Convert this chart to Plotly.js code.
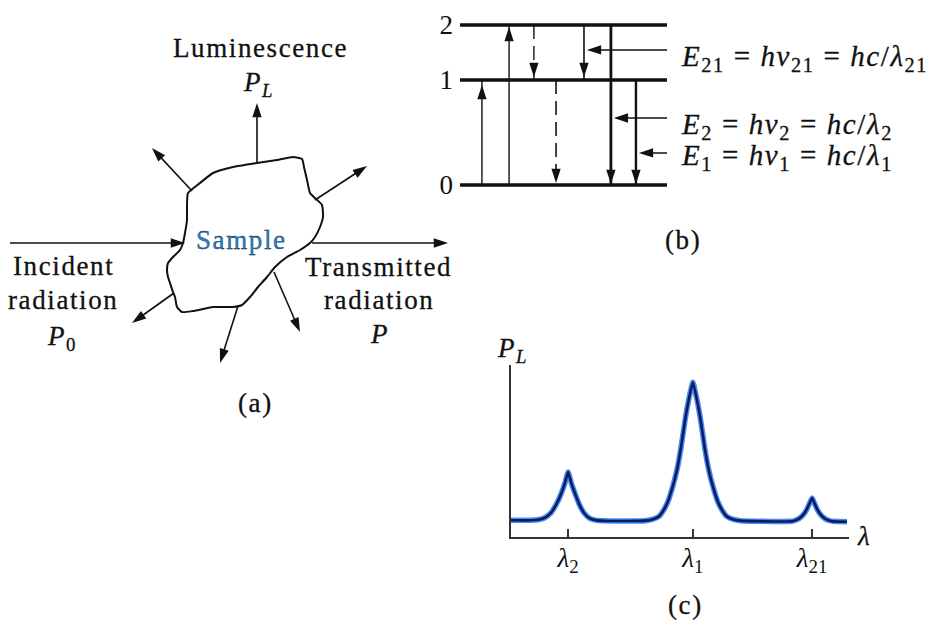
<!DOCTYPE html>
<html>
<head>
<meta charset="utf-8">
<script src="https://cdn.plot.ly/plotly-3.0.1.min.js"></script>
<style>
  html, body { margin: 0; padding: 0; background: #fff; }
  #fig { width: 935px; height: 623px; }
  .annotation-text { letter-spacing: 1.6px; }
  .annotation-text, .xtick text, .ytick text { stroke: #111; stroke-width: 0.3px; }
</style>
</head>
<body>
<div id="fig"></div>
<script>
// ---------- Energy-level scheme (panel b) ----------
const levelNames  = ['0', '1', '2'];
const levelEnergy = [0, 1, 1.524];          // relative energies of states 0, 1 and 2

// Transitions: start state, end state and kind of process
const transFrom = [0, 0, 2, 1, 2, 2, 1];
const transTo   = [1, 2, 1, 0, 1, 0, 0];
const transKind = ['absorption', 'absorption', 'nonradiative', 'nonradiative',
                   'emission', 'emission', 'emission'];

// Emitted photons and the emission transition each one belongs to
const photonLabels = [
  '<i>E</i><sub>21</sub> = <i>hν</i><sub>21</sub> = <i>hc</i>/<i>λ</i><sub>21</sub>',
  '<i>E</i><sub>2</sub> = <i>hν</i><sub>2</sub> = <i>hc</i>/<i>λ</i><sub>2</sub>',
  '<i>E</i><sub>1</sub> = <i>hν</i><sub>1</sub> = <i>hc</i>/<i>λ</i><sub>1</sub>'
];
const photonTransition = [4, 5, 6];

// ---------- Luminescence spectrum (panel c) ----------
const wavelength = [
  0.00, 0.60, 0.80, 1.00, 1.18, 1.34, 1.49, 1.59, 1.69, 1.79, 1.89, 2.02, 2.16, 2.32, 2.50, 2.75,
  3.40,
  3.98, 4.18, 4.38, 4.48, 4.63, 4.78, 4.91, 5.03, 5.15, 5.26, 5.38, 5.50, 5.61, 5.73, 5.85, 5.98,
  6.13, 6.28, 6.38, 6.58, 6.78,
  7.50, 8.00,
  8.30, 8.40, 8.52, 8.65, 8.75, 8.83, 8.91, 8.98, 9.06, 9.16, 9.29, 9.41, 9.52,
  9.94
];
const intensity = [
  0.97, 0.97, 1.00, 1.12, 1.40, 1.90, 2.55, 3.10, 3.78, 3.10, 2.55, 1.90, 1.40, 1.10, 0.98, 0.94,
  0.93,
  0.95, 1.02, 1.20, 1.45, 2.00, 2.90, 3.90, 5.20, 6.80, 8.00, 9.00, 8.00, 6.80, 5.20, 3.90, 2.90,
  2.00, 1.45, 1.20, 1.02, 0.95,
  0.91, 0.90,
  0.91, 0.96, 1.07, 1.30, 1.60, 1.95, 2.27, 1.95, 1.60, 1.30, 1.07, 0.96, 0.91,
  0.89
];
const peakWavelength = [1.69, 5.38, 8.91];
const peakLabels = ['<i>λ</i><sub>2</sub>', '<i>λ</i><sub>1</sub>', '<i>λ</i><sub>21</sub>'];

// ---------- drawing ----------
const W = 935, H = 623;
const SERIF = 'Liberation Serif';
const INK = '#111';
const px = v => v / W, py = v => 1 - v / H;

const traces = [];

// Panel (a): sample outline and the rays leaving / entering it (sketch in page pixels)
const outline = [
  [188,193],[200,183],[213,173],[233,167],[257,163],[277,160],[293,157],[302,159],[304,167],[307,180],
  [310,193],[315,198],[322,205],[323,217],[320,227],[315,237],[310,243],[300,250],[287,257],[275,267],
  [267,277],[258,287],[250,297],[242,305],[233,307],[213,307],[193,311],[182,312],[177,307],[175,297],
  [173,292],[170,283],[168,277],[167,270],[168,263],[173,257],[180,250],[183,243],[185,233],[187,220],
  [187,207],[188,193]
];
traces.push({
  type: 'scatter', mode: 'lines', xaxis: 'x', yaxis: 'y',
  x: outline.map(p => p[0]), y: outline.map(p => p[1]),
  line: {color: INK, width: 2, shape: 'spline', smoothing: 0.5}, hoverinfo: 'skip'
});

const rays = [
  [257,163,257,103], [192,191,152,148], [315,200,367,166], [10,243,185,243],
  [312,243,448,243], [174,293,132,323], [238,306,220,363], [274,272,300,332]
];
const rayHeads = {x: [], y: [], angle: []};
rays.forEach(r => {
  const [x0, y0, x1, y1] = r;
  const len = Math.hypot(x1 - x0, y1 - y0);
  const ux = (x1 - x0) / len, uy = (y1 - y0) / len;
  traces.push({
    type: 'scatter', mode: 'lines', xaxis: 'x', yaxis: 'y',
    x: [x0, x1 - ux * 6], y: [y0, y1 - uy * 6],
    line: {color: INK, width: 1.6}, hoverinfo: 'skip'
  });
  rayHeads.x.push(x1); rayHeads.y.push(y1);
  rayHeads.angle.push(Math.atan2(x1 - x0, -(y1 - y0)) * 180 / Math.PI);
});
traces.push({
  type: 'scatter', mode: 'markers', xaxis: 'x', yaxis: 'y',
  x: rayHeads.x, y: rayHeads.y,
  marker: {symbol: 'arrow', size: 15, color: INK, angle: rayHeads.angle, line: {width: 0}},
  hoverinfo: 'skip'
});

// Panel (b): levels, transitions and photon pointers (x3 / y3 axes)
const slotX = [1.06, 2.37, 3.57, 4.64, 5.99, 7.29, 8.50];
const slotWidth = [1.4, 1.4, 1.4, 1.6, 1.6, 2.8, 2.4];
const headGapPx = [5, 2, 3, 2, 3, 1, 1];
const pxPerUnit = 105;
const pointerY = [1.286, 0.638, 0.305];
const pointerStartX = 10.34;

const lvlX = [], lvlY = [];
levelEnergy.forEach(e => { lvlX.push(0, 10, null); lvlY.push(e, e, null); });
traces.push({
  type: 'scatter', mode: 'lines', xaxis: 'x3', yaxis: 'y3', x: lvlX, y: lvlY,
  line: {color: INK, width: 3.6}, cliponaxis: false, hoverinfo: 'skip'
});

const heads = {x: [], y: [], angle: []};
transFrom.forEach((f, i) => {
  const e0 = levelEnergy[f], e1 = levelEnergy[transTo[i]];
  const up = e1 > e0;
  traces.push({
    type: 'scatter', mode: 'lines', xaxis: 'x3', yaxis: 'y3',
    x: [slotX[i], slotX[i]], y: [e0, e1],
    line: {color: INK, width: slotWidth[i], dash: transKind[i] === 'nonradiative' ? '14px,7px' : 'solid'},
    cliponaxis: false, hoverinfo: 'skip'
  });
  heads.x.push(slotX[i]);
  heads.y.push(e1 + (up ? -1 : 1) * headGapPx[i] / pxPerUnit);
  heads.angle.push(up ? 0 : 180);
});
photonTransition.forEach((t, k) => {
  const tipX = slotX[t] + 0.14;
  traces.push({
    type: 'scatter', mode: 'lines', xaxis: 'x3', yaxis: 'y3',
    x: [pointerStartX, tipX + 0.3], y: [pointerY[k], pointerY[k]],
    line: {color: INK, width: 1.6}, cliponaxis: false, hoverinfo: 'skip'
  });
  heads.x.push(tipX); heads.y.push(pointerY[k]); heads.angle.push(270);
});
traces.push({
  type: 'scatter', mode: 'markers', xaxis: 'x3', yaxis: 'y3',
  x: heads.x, y: heads.y,
  marker: {symbol: 'arrow', size: 15, color: INK, angle: heads.angle, line: {width: 0}},
  cliponaxis: false, hoverinfo: 'skip'
});

// Panel (c): luminescence spectrum, a soft blue halo under a dark core line
traces.push({
  type: 'scatter', mode: 'lines', xaxis: 'x2', yaxis: 'y2', x: wavelength, y: intensity,
  line: {color: 'rgba(45,120,230,0.85)', width: 5.5, shape: 'spline', smoothing: 0.4},
  cliponaxis: false, hoverinfo: 'skip'
});
traces.push({
  type: 'scatter', mode: 'lines', xaxis: 'x2', yaxis: 'y2', x: wavelength, y: intensity,
  line: {color: '#0b1a66', width: 2.6, shape: 'spline', smoothing: 0.4},
  cliponaxis: false, hoverinfo: 'skip'
});

// Text labels
const ann = (x, y, text, extra) => Object.assign({
  xref: 'x', yref: 'y', x: x, y: y, text: text, showarrow: false,
  xanchor: 'center', yanchor: 'middle',
  font: {family: SERIF, size: 27, color: INK}
}, extra || {});

const annotations = [
  ann(260, 48, 'Luminescence'),
  ann(258, 84, '<i>P</i><sub><i>L</i></sub>'),
  ann(241, 240, 'Sample', {font: {family: SERIF, size: 27, color: '#2a7fc8'}}),
  ann(63, 266, 'Incident'),
  ann(63, 300, 'radiation'),
  ann(62, 338, '<i>P</i><sub>0</sub>'),
  ann(378, 267, 'Transmitted'),
  ann(379, 300, 'radiation'),
  ann(379, 334, '<i>P</i>'),
  ann(255, 403, '(a)'),
  ann(683, 240, '(b)'),
  ann(512, 350, '<i>P</i><sub><i>L</i></sub>'),
  ann(864, 536, '<i>λ</i>'),
  ann(685, 605, '(c)')
];
photonLabels.forEach((t, k) => {
  annotations.push(ann(679, [58, 126, 157][k], t,
    {xanchor: 'left', font: {family: SERIF, size: 29, color: INK}}));
});

const hidden = {visible: false, fixedrange: true, showgrid: false, zeroline: false};
const eBottom = -0.2, eTop = 1.65;

const layout = {
  width: W, height: H,
  margin: {l: 0, r: 0, t: 0, b: 0, pad: 0},
  paper_bgcolor: '#fff', plot_bgcolor: 'rgba(0,0,0,0)',
  showlegend: false,
  font: {family: SERIF, size: 27, color: INK},
  xaxis: Object.assign({domain: [0, 1], range: [0, W], anchor: 'y'}, hidden),
  yaxis: Object.assign({domain: [0, 1], range: [H, 0], anchor: 'x'}, hidden),
  xaxis2: {
    domain: [px(511), px(849)], range: [0, 10], anchor: 'y2',
    showline: true, linecolor: '#333', linewidth: 1.6,
    ticks: 'inside', ticklen: 8, tickwidth: 2, tickcolor: '#333',
    tickvals: peakWavelength, ticktext: peakLabels, ticklabelstandoff: -4,
    tickfont: {family: SERIF, size: 27, color: INK},
    showgrid: false, zeroline: false, fixedrange: true
  },
  yaxis2: {
    domain: [py(537), py(365)], range: [0, 10], anchor: 'x2',
    showline: true, linecolor: '#333', linewidth: 1.6,
    ticks: '', showticklabels: false, showgrid: false, zeroline: false, fixedrange: true
  },
  xaxis3: Object.assign({domain: [px(460), px(667)], range: [0, 10], anchor: 'y3'}, hidden),
  yaxis3: {
    domain: [py(185 - eBottom * pxPerUnit), py(185 - eTop * pxPerUnit)],
    range: [eBottom, eTop], anchor: 'x3',
    showline: false, showgrid: false, zeroline: false, ticks: '',
    tickvals: levelEnergy, ticktext: levelNames, ticklabelstandoff: 6,
    tickfont: {family: SERIF, size: 27, color: INK}, fixedrange: true
  },
  annotations: annotations
};

Plotly.newPlot('fig', traces, layout, {displayModeBar: false, staticPlot: true});
</script>
</body>
</html>
